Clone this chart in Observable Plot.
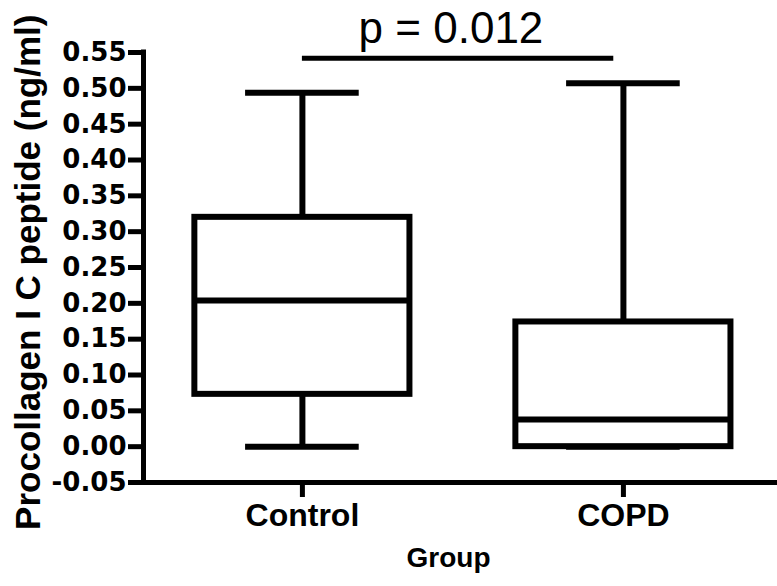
<!DOCTYPE html>
<html><head><meta charset="utf-8">
<script src="https://cdn.jsdelivr.net/npm/d3@7"></script>
<script src="https://cdn.jsdelivr.net/npm/@observablehq/plot@0.6"></script>
<style>body{margin:0;background:#fff} #chart svg{display:block}</style>
</head><body><div id="chart"></div>
<script>
// ---- data ----
const groups = ["Control", "COPD"];
const mins = [0.000, 0.000];
const q1s = [0.073, 0.000];
const medians = [0.204, 0.038];
const q3s = [0.320, 0.174];
const maxs = [0.494, 0.507];
const yTicks = [-0.05, 0.00, 0.05, 0.10, 0.15, 0.20, 0.25, 0.30, 0.35, 0.40, 0.45, 0.50, 0.55];
const pText = "p = 0.012";
const pBracketY = 0.542;
const yLabel = "Procollagen I C peptide (ng/ml)";
const xLabel = "Group";

const rows = groups.map((g, i) => ({g, i, min: mins[i], q1: q1s[i], med: medians[i], q3: q3s[i], max: maxs[i]}));
const xDomain = [-0.495, 1.48];
const yDomain = [-0.05, 0.5535];
const BOX = 0.335, CAP = 0.177, LW = 6;

const chart = Plot.plot({
  width: 777, height: 586,
  marginLeft: 143, marginRight: 0, marginTop: 49.5, marginBottom: 104,
  x: {domain: xDomain, axis: null},
  y: {domain: yDomain, axis: null},
  style: {fontFamily: "'Liberation Sans', Arial, sans-serif", color: "#000", background: "#fff", overflow: "visible"},
  marks: [
    Plot.ruleX(rows, {x: "i", y1: "q3", y2: "max", strokeWidth: LW}),
    Plot.ruleX(rows, {x: "i", y1: "min", y2: "q1", strokeWidth: LW}),
    Plot.ruleY(rows, {y: "max", x1: d => d.i - CAP, x2: d => d.i + CAP, strokeWidth: LW}),
    Plot.ruleY(rows, {y: "min", x1: d => d.i - CAP, x2: d => d.i + CAP, strokeWidth: LW}),
    Plot.rect(rows, {x1: d => d.i - BOX, x2: d => d.i + BOX, y1: "q1", y2: "q3", fill: "white", stroke: "black", strokeWidth: LW}),
    Plot.ruleY(rows, {y: "med", x1: d => d.i - BOX, x2: d => d.i + BOX, strokeWidth: LW}),
    Plot.axisY({ticks: yTicks, tickFormat: d => d.toFixed(2), tickSize: 15, tickPadding: 2, strokeWidth: 5,
      fontSize: 26, fontFamily: "DejaVu Sans", fontWeight: "bold", label: null}),
    Plot.axisX({ticks: [0, 1], tickFormat: i => groups[i], tickSize: 15, tickPadding: 6, strokeWidth: 5,
      fontSize: 32, fontWeight: "bold", label: null}),
    Plot.ruleX([xDomain[0]], {strokeWidth: 5}),
    Plot.ruleY([yDomain[0]], {strokeWidth: 5}),
    Plot.ruleY([pBracketY], {x1: 0, x2: 0.97, strokeWidth: 5}),
    Plot.text([pText], {text: d => d, x: 0.4815, y: pBracketY, dx: -6, dy: -29, fontSize: 44, fontFamily: "'Liberation Sans'"}),
    Plot.text([yLabel], {text: d => d, frameAnchor: "left", textAnchor: "middle", rotate: -90, dx: -115, dy: 6, fontSize: 35, fontWeight: "bold"}),
    Plot.text([xLabel], {text: d => d, frameAnchor: "bottom", textAnchor: "middle", dx: -12, dy: 84, fontSize: 28, fontWeight: "bold"})
  ]
});
document.getElementById("chart").appendChild(chart);
</script>
</body></html>
